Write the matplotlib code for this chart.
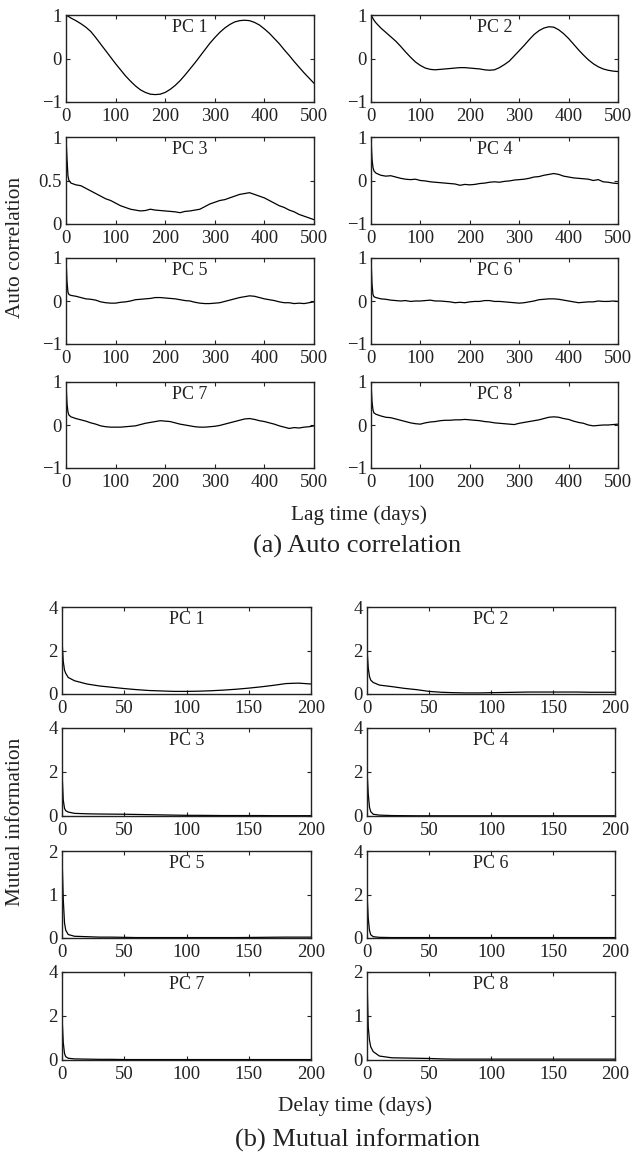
import matplotlib
matplotlib.use("Agg")
import matplotlib.pyplot as plt

plt.rcParams['font.family'] = ['Liberation Serif', 'DejaVu Serif']
plt.rcParams['font.size'] = 13.5

# ---- (a) auto correlation, lag in days ----
lag_ac = [0, 2, 4, 6, 10, 20, 30, 40, 50, 60, 70, 80, 90, 100, 110, 120, 130, 140, 150,
          160, 170, 180, 190, 200, 210, 220, 230, 240, 250, 260, 270, 280, 290, 300,
          310, 320, 330, 340, 350, 360, 370, 380, 390, 400, 410, 420, 430, 440, 450,
          460, 470, 480, 490, 500]

ac_pc1 = [1.0, 0.99, 0.97, 0.96, 0.93, 0.87, 0.8, 0.72, 0.62, 0.48, 0.33, 0.18, 0.03, -0.12,
          -0.26, -0.4, -0.52, -0.63, -0.72, -0.78, -0.82, -0.83, -0.82, -0.78, -0.71, -0.62,
          -0.51, -0.38, -0.24, -0.1, 0.05, 0.2, 0.35, 0.48, 0.6, 0.7, 0.78, 0.84, 0.87, 0.88,
          0.87, 0.83, 0.77, 0.68, 0.58, 0.46, 0.34, 0.2, 0.07, -0.07, -0.2, -0.33, -0.45, -0.57]
ac_pc2 = [1.0, 0.96, 0.92, 0.88, 0.82, 0.7, 0.6, 0.5, 0.4, 0.28, 0.15, 0.03, -0.08, -0.16,
          -0.22, -0.25, -0.26, -0.25, -0.24, -0.23, -0.22, -0.21, -0.21, -0.22, -0.23, -0.24,
          -0.26, -0.27, -0.26, -0.21, -0.14, -0.06, 0.06, 0.18, 0.3, 0.43, 0.55, 0.64, 0.7,
          0.73, 0.72, 0.66, 0.57, 0.46, 0.33, 0.2, 0.08, -0.03, -0.12, -0.19, -0.24, -0.27,
          -0.29, -0.3]
ac_pc3 = [1.0, 0.75, 0.55, 0.5, 0.47, 0.45, 0.44, 0.41, 0.38, 0.35, 0.32, 0.29, 0.27, 0.24,
          0.21, 0.19, 0.17, 0.16, 0.15, 0.155, 0.17, 0.16, 0.155, 0.15, 0.145, 0.14, 0.13,
          0.145, 0.15, 0.16, 0.17, 0.2, 0.23, 0.25, 0.27, 0.28, 0.3, 0.32, 0.34, 0.35, 0.36,
          0.34, 0.32, 0.3, 0.27, 0.24, 0.21, 0.19, 0.16, 0.14, 0.11, 0.09, 0.07, 0.05]
ac_pc4 = [1.0, 0.5, 0.3, 0.22, 0.17, 0.12, 0.1, 0.11, 0.08, 0.05, 0.03, 0.02, 0.03, 0.0,
          -0.01, -0.03, -0.04, -0.05, -0.06, -0.07, -0.08, -0.11, -0.09, -0.1, -0.09, -0.07,
          -0.06, -0.04, -0.03, -0.04, -0.02, -0.01, 0.01, 0.02, 0.03, 0.05, 0.08, 0.09, 0.12,
          0.14, 0.16, 0.14, 0.1, 0.08, 0.06, 0.05, 0.04, 0.03, 0.0, 0.02, -0.03, -0.04, -0.06,
          -0.07]
ac_pc5 = [1.0, 0.45, 0.2, 0.15, 0.13, 0.11, 0.08, 0.05, 0.04, 0.02, -0.02, -0.04, -0.05,
          -0.05, -0.03, -0.02, 0.0, 0.03, 0.04, 0.05, 0.06, 0.08, 0.08, 0.07, 0.06, 0.05,
          0.03, 0.01, 0.0, -0.03, -0.05, -0.06, -0.06, -0.05, -0.04, -0.01, 0.02, 0.05, 0.08,
          0.1, 0.12, 0.11, 0.08, 0.05, 0.03, 0.01, -0.02, -0.04, -0.04, -0.06, -0.05, -0.06,
          -0.04, -0.02]
ac_pc6 = [1.0, 0.4, 0.15, 0.1, 0.08, 0.05, 0.04, 0.02, 0.01, 0.0, 0.01, -0.01, 0.0, 0.0,
          0.01, 0.02, 0.0, 0.0, -0.01, -0.02, -0.04, -0.03, -0.04, -0.02, -0.01, -0.01, 0.01,
          0.01, -0.01, -0.01, -0.02, -0.03, -0.04, -0.05, -0.04, -0.02, 0.0, 0.03, 0.04,
          0.05, 0.05, 0.04, 0.02, 0.0, -0.02, -0.04, -0.03, -0.02, -0.02, 0.0, -0.01, -0.01,
          0.0, -0.01]
ac_pc7 = [1.0, 0.5, 0.3, 0.23, 0.19, 0.15, 0.12, 0.09, 0.05, 0.02, -0.02, -0.04, -0.05,
          -0.05, -0.05, -0.04, -0.03, -0.02, 0.01, 0.04, 0.06, 0.08, 0.1, 0.09, 0.08, 0.05,
          0.02, 0.0, -0.02, -0.04, -0.05, -0.05, -0.04, -0.03, -0.01, 0.02, 0.05, 0.08, 0.11,
          0.14, 0.15, 0.13, 0.1, 0.08, 0.05, 0.02, -0.02, -0.05, -0.08, -0.06, -0.07, -0.05,
          -0.04, -0.02]
ac_pc8 = [1.0, 0.55, 0.35, 0.28, 0.25, 0.21, 0.18, 0.17, 0.14, 0.11, 0.08, 0.05, 0.03, 0.02,
          0.05, 0.07, 0.08, 0.1, 0.11, 0.11, 0.12, 0.12, 0.13, 0.12, 0.11, 0.1, 0.08, 0.07,
          0.05, 0.04, 0.03, 0.02, 0.01, 0.04, 0.06, 0.08, 0.1, 0.12, 0.15, 0.18, 0.19, 0.18,
          0.15, 0.13, 0.09, 0.06, 0.04, 0.0, -0.02, -0.01, 0.0, 0.0, 0.01, 0.02]

# ---- (b) mutual information, delay in days ----
lag_mi = [0, 1, 2, 3, 5, 10, 20, 30, 40, 50, 60, 70, 80, 90, 100, 110, 120, 130, 140, 150,
          160, 170, 180, 190, 200]

mi_pc1 = [2.5, 1.5, 1.1, 0.95, 0.76, 0.61, 0.46, 0.37, 0.31, 0.25, 0.2, 0.16, 0.14, 0.12,
          0.12, 0.13, 0.15, 0.18, 0.22, 0.27, 0.33, 0.4, 0.48, 0.5, 0.46]
mi_pc2 = [2.1, 1.2, 0.8, 0.64, 0.53, 0.41, 0.34, 0.26, 0.2, 0.12, 0.08, 0.06, 0.05, 0.05,
          0.06, 0.07, 0.08, 0.09, 0.09, 0.09, 0.09, 0.09, 0.08, 0.08, 0.08]
mi_pc3 = [2.0, 0.73, 0.35, 0.24, 0.18, 0.12, 0.1, 0.09, 0.085, 0.08, 0.07, 0.06, 0.05,
          0.04, 0.03, 0.03, 0.025, 0.02, 0.02, 0.02, 0.02, 0.015, 0.015, 0.015, 0.015]
mi_pc4 = [2.1, 1.0, 0.4, 0.2, 0.08, 0.04, 0.02, 0.015, 0.01, 0.01, 0.01, 0.01, 0.01, 0.01,
          0.01, 0.01, 0.01, 0.01, 0.01, 0.01, 0.01, 0.01, 0.01, 0.01, 0.01]
mi_pc5 = [1.9, 0.9, 0.35, 0.18, 0.08, 0.04, 0.03, 0.02, 0.02, 0.015, 0.01, 0.01, 0.01,
          0.01, 0.01, 0.01, 0.01, 0.01, 0.01, 0.012, 0.015, 0.018, 0.02, 0.02, 0.02]
mi_pc6 = [2.1, 0.9, 0.35, 0.15, 0.06, 0.03, 0.02, 0.02, 0.02, 0.02, 0.02, 0.02, 0.02, 0.02,
          0.02, 0.02, 0.02, 0.02, 0.02, 0.02, 0.02, 0.02, 0.02, 0.02, 0.02]
mi_pc7 = [2.0, 0.8, 0.3, 0.15, 0.08, 0.05, 0.04, 0.03, 0.03, 0.02, 0.02, 0.02, 0.02, 0.02,
          0.02, 0.02, 0.02, 0.02, 0.02, 0.02, 0.02, 0.02, 0.02, 0.02, 0.02]
mi_pc8 = [1.9, 0.75, 0.45, 0.3, 0.19, 0.09, 0.05, 0.045, 0.04, 0.035, 0.025, 0.02, 0.02,
          0.02, 0.02, 0.02, 0.02, 0.02, 0.02, 0.02, 0.02, 0.02, 0.02, 0.02, 0.02]

ac_series = [ac_pc1, ac_pc2, ac_pc3, ac_pc4, ac_pc5, ac_pc6, ac_pc7, ac_pc8]
mi_series = [mi_pc1, mi_pc2, mi_pc3, mi_pc4, mi_pc5, mi_pc6, mi_pc7, mi_pc8]
pc_names = ["PC 1", "PC 2", "PC 3", "PC 4", "PC 5", "PC 6", "PC 7", "PC 8"]

W, H = 633, 1156
fig = plt.figure(figsize=(W / 100, H / 100), dpi=100)


def add_ax(x0, y0, x1, y1):
    # pixel box (top-left origin) -> figure fraction
    return fig.add_axes([x0 / W, 1 - y1 / H, (x1 - x0) / W, (y1 - y0) / H])


def style(ax):
    ax.tick_params(direction='in', top=True, right=True, length=3, width=0.8,
                   labelsize=13.5, colors='#222222')
    ax.tick_params(axis='x', pad=4.5)
    ax.tick_params(axis='y', pad=3)
    for s in ax.spines.values():
        s.set_linewidth(1.0)
        s.set_color('#222222')


ac_cols = [(66, 314), (371, 618)]
ac_rows = [(15, 102), (137, 224), (258, 344), (382, 468)]
mi_cols = [(62, 311), (367, 615)]
mi_rows = [(607, 694), (728, 816), (851, 938), (972, 1060)]

for i in range(8):
    r, c = divmod(i, 2)
    ax = add_ax(ac_cols[c][0], ac_rows[r][0], ac_cols[c][1], ac_rows[r][1])
    ax.plot(lag_ac, ac_series[i], color='black', linewidth=0.9)
    ax.set_xlim(0, 500)
    ax.set_xticks([0, 100, 200, 300, 400, 500])
    if i == 2:
        ax.set_ylim(0, 1)
        ax.set_yticks([0, 0.5, 1])
        ax.set_yticklabels(['0', '0.5', '1'])
    else:
        ax.set_ylim(-1, 1)
        ax.set_yticks([-1, 0, 1])
        ax.set_yticklabels(['\u22121', '0', '1'])
    ax.text(0.5, 0.95, pc_names[i], transform=ax.transAxes, ha='center', va='top',
            fontsize=13, color='#222222')
    style(ax)

for i in range(8):
    r, c = divmod(i, 2)
    ax = add_ax(mi_cols[c][0], mi_rows[r][0], mi_cols[c][1], mi_rows[r][1])
    ax.plot(lag_mi, mi_series[i], color='black', linewidth=0.9)
    ax.set_xlim(0, 200)
    ax.set_xticks([0, 50, 100, 150, 200])
    if i in (4, 7):
        ax.set_ylim(0, 2)
        ax.set_yticks([0, 1, 2])
    else:
        ax.set_ylim(0, 4)
        ax.set_yticks([0, 2, 4])
    ax.text(0.5, 0.95, pc_names[i], transform=ax.transAxes, ha='center', va='top',
            fontsize=13, color='#222222')
    style(ax)

txt = dict(ha='center', va='center', color='#222222')
fig.text(16 / W, 1 - 247 / H, "Auto correlation", rotation=90, fontsize=15.4, **txt)
fig.text(359 / W, 1 - 515 / H, "Lag time (days)", fontsize=15.4, **txt)
fig.text(357 / W, 1 - 546 / H, "(a) Auto correlation", fontsize=19, **txt)

fig.text(16 / W, 1 - 822 / H, "Mutual information", rotation=90, fontsize=15.4, **txt)
fig.text(355 / W, 1 - 1106 / H, "Delay time (days)", fontsize=15.4, **txt)
fig.text(357 / W, 1 - 1140 / H, "(b) Mutual information", fontsize=19, **txt)

fig.savefig("out.png", dpi=100)
